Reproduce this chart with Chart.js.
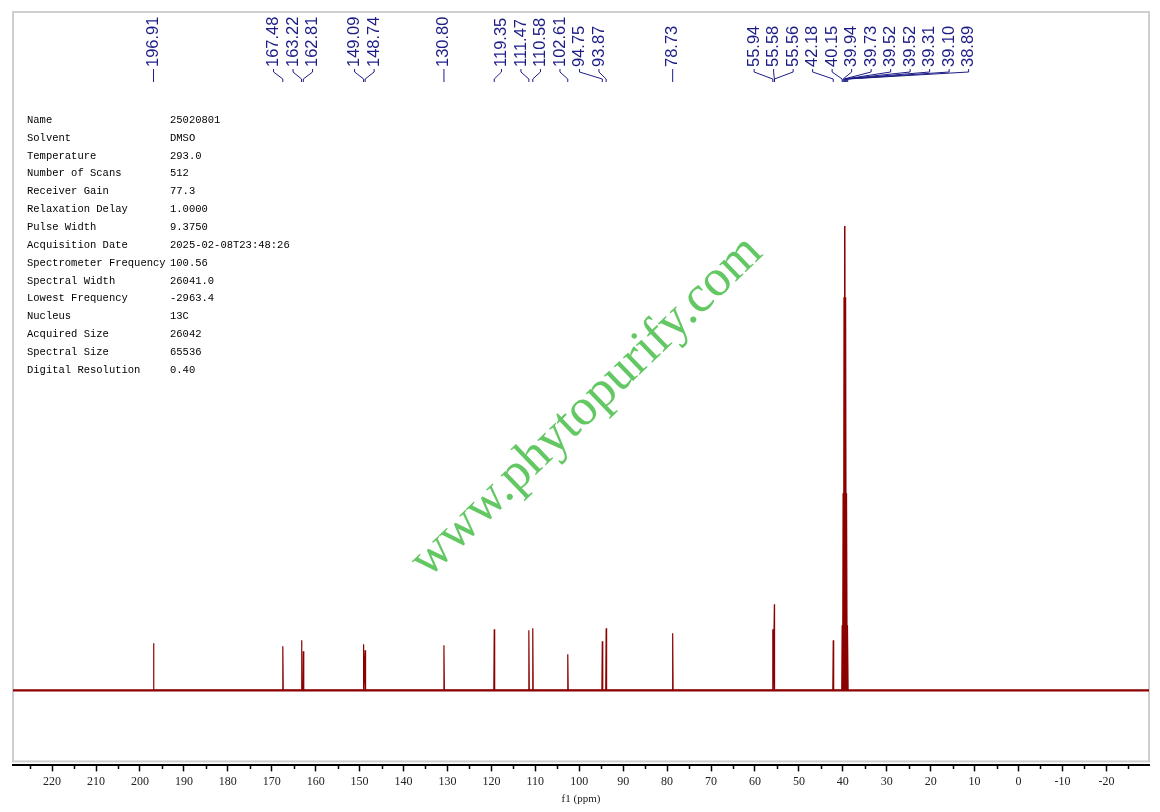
<!DOCTYPE html>
<html>
<head>
<meta charset="utf-8">
<title>13C NMR</title>
<script src="https://cdn.jsdelivr.net/npm/chart.js@4.4.1/dist/chart.umd.min.js"></script>
<style>
  html, body { margin: 0; padding: 0; background: #fff; }
</style>
</head>
<body>
<canvas id="spec" width="1160" height="812"></canvas>
<script>
// Peak list: chemical shift (ppm) and height above the baseline
const peakShifts = [196.91, 167.48, 163.22, 162.81, 149.09, 148.74, 130.80, 119.35, 111.47, 110.58,
  102.61, 94.75, 93.87, 78.73, 55.94, 55.58, 55.56, 42.18, 40.15, 39.94, 39.73, 39.52, 39.52,
  39.31, 39.10, 38.89];
const peakHeights = [47, 44, 50, 39, 46, 40, 45, 61, 60, 62,
  36, 49, 62, 57, 61, 86, 84, 50, 65, 197, 393, 464, 464,
  393, 197, 65];

// Axis
const xTicks = [220, 210, 200, 190, 180, 170, 160, 150, 140, 130, 120, 110, 100,
  90, 80, 70, 60, 50, 40, 30, 20, 10, 0, -10, -20];
const ppmLeft = 228.9;
const ppmRight = -29.7;
const intensityMin = -75;
const intensityMax = 678;

// Acquisition parameters table
const paramNames = ['Name', 'Solvent', 'Temperature', 'Number of Scans', 'Receiver Gain',
  'Relaxation Delay', 'Pulse Width', 'Acquisition Date', 'Spectrometer Frequency',
  'Spectral Width', 'Lowest Frequency', 'Nucleus', 'Acquired Size', 'Spectral Size',
  'Digital Resolution'];
const paramValues = ['25020801', 'DMSO', '293.0', '512', '77.3', '1.0000', '9.3750',
  '2025-02-08T23:48:26', '100.56', '26041.0', '-2963.4', '13C', '26042', '65536', '0.40'];

const watermarkText = 'www.phytopurify.com';

// styling
const SPEC_COLOR = '#8b0000';
const LABEL_COLOR = '#1c1c86';
const LABEL_GAP = 19.5;
const SPIKE_HALF_WIDTH = 0.1;

// build spike polyline from the peak list
const peakPoints = [];
peakShifts.forEach((ppm, i) => {
  peakPoints.push({ x: ppm + SPIKE_HALF_WIDTH, y: 0 });
  peakPoints.push({ x: ppm, y: peakHeights[i] });
  peakPoints.push({ x: ppm - SPIKE_HALF_WIDTH, y: 0 });
});
const baselinePoints = [{ x: ppmLeft, y: 0 }, { x: ppmRight, y: 0 }];

// spread peak labels: close peaks share an evenly spaced block, blocks never overlap
function layoutLabels(px) {
  const groups = [];
  px.forEach((p, i) => {
    const g = groups[groups.length - 1];
    if (g && p - px[g.last] < 2 * LABEL_GAP) g.last = i;
    else groups.push({ first: i, last: i });
  });
  const pos = [];
  let prevEnd = -Infinity;
  groups.forEach((g) => {
    const n = g.last - g.first + 1;
    let start = (px[g.first] + px[g.last]) / 2 - ((n - 1) * LABEL_GAP) / 2;
    start = Math.max(start, prevEnd + LABEL_GAP);
    for (let k = 0; k < n; k++) pos.push(start + k * LABEL_GAP);
    prevEnd = start + (n - 1) * LABEL_GAP;
  });
  return pos;
}

const spectrumDecor = {
  id: 'spectrumDecor',
  beforeDatasetsDraw(chart) {
    const { ctx, chartArea: a } = chart;
    ctx.save();

    // light frame round the plot
    ctx.strokeStyle = '#cfcfcf';
    ctx.lineWidth = 2;
    ctx.strokeRect(a.left, a.top, a.right - a.left, a.bottom - a.top - 4);

    // watermark
    ctx.save();
    ctx.translate(a.left + (a.right - a.left) * 0.505, a.top + (a.bottom - a.top) * 0.524);
    ctx.rotate(-44 * Math.PI / 180);
    ctx.font = '52px "Liberation Serif"';
    ctx.fillStyle = 'rgba(72, 190, 72, 0.85)';
    ctx.textAlign = 'center';
    ctx.textBaseline = 'middle';
    ctx.fillText(watermarkText, 0, 0);
    ctx.restore();

    // parameters table
    ctx.font = '10.5px "Liberation Mono"';
    ctx.fillStyle = '#000';
    ctx.textBaseline = 'middle';
    ctx.textAlign = 'left';
    paramNames.forEach((name, i) => {
      const y = 120 + i * 17.86;
      ctx.fillText(name, 27, y);
      ctx.fillText(paramValues[i], 170, y);
    });
    ctx.restore();
  },
  afterDraw(chart) {
    const { ctx, chartArea: a } = chart;
    const xs = chart.scales.x;
    ctx.save();

    // minor ticks every 5 ppm
    ctx.strokeStyle = '#000';
    ctx.lineWidth = 1.5;
    ctx.beginPath();
    for (let v = Math.ceil(xs.min / 5) * 5; v <= xs.max; v += 5) {
      if (v % 10 === 0) continue;
      const x = Math.round(xs.getPixelForValue(v)) + 0.5;
      ctx.moveTo(x, a.bottom);
      ctx.lineTo(x, a.bottom + 3.5);
    }
    ctx.stroke();

    // peak labels with connectors
    const px = peakShifts.map((p) => xs.getPixelForValue(p));
    const lx = layoutLabels(px);
    const textBottom = 67;
    ctx.strokeStyle = LABEL_COLOR;
    ctx.lineWidth = 1;
    ctx.beginPath();
    px.forEach((p, i) => {
      ctx.moveTo(lx[i], textBottom + 2);
      ctx.lineTo(lx[i], textBottom + 5);
      ctx.lineTo(p, textBottom + 12);
      ctx.lineTo(p, textBottom + 15);
    });
    ctx.stroke();

    ctx.fillStyle = LABEL_COLOR;
    ctx.font = '16.5px "Liberation Sans"';
    ctx.textAlign = 'left';
    ctx.textBaseline = 'middle';
    peakShifts.forEach((p, i) => {
      ctx.save();
      ctx.translate(lx[i], textBottom);
      ctx.rotate(-Math.PI / 2);
      ctx.fillText(p.toFixed(2), 0, 0);
      ctx.restore();
    });
    ctx.restore();
  },
};

new Chart(document.getElementById('spec'), {
  type: 'scatter',
  data: {
    datasets: [
      {
        data: baselinePoints,
        showLine: true,
        borderColor: SPEC_COLOR,
        borderWidth: 2.2,
        pointRadius: 0,
      },
      {
        data: peakPoints,
        showLine: true,
        borderColor: SPEC_COLOR,
        borderWidth: 1.2,
        pointRadius: 0,
        tension: 0,
      },
    ],
  },
  options: {
    responsive: false,
    animation: false,
    events: [],
    layout: { padding: { left: 13, right: 11, top: 12, bottom: 6 } },
    plugins: {
      legend: { display: false },
      tooltip: { enabled: false },
    },
    scales: {
      x: {
        type: 'linear',
        reverse: true,
        min: ppmRight,
        max: ppmLeft,
        border: { display: true, color: '#000', width: 2 },
        grid: { drawOnChartArea: false, drawTicks: true, tickLength: 6, tickColor: '#000', tickWidth: 1.5 },
        afterBuildTicks: (scale) => {
          scale.ticks = xTicks.map((v) => ({ value: v }));
        },
        ticks: {
          autoSkip: false,
          maxRotation: 0,
          padding: 3,
          color: '#222',
          font: { family: 'Liberation Serif', size: 12 },
          callback: (v) => String(v),
        },
        title: {
          display: true,
          text: 'f1 (ppm)',
          color: '#222',
          font: { family: 'Liberation Serif', size: 11 },
          padding: { top: 1, bottom: 0 },
        },
      },
      y: {
        display: false,
        min: intensityMin,
        max: intensityMax,
      },
    },
  },
  plugins: [spectrumDecor],
});
</script>
</body>
</html>
